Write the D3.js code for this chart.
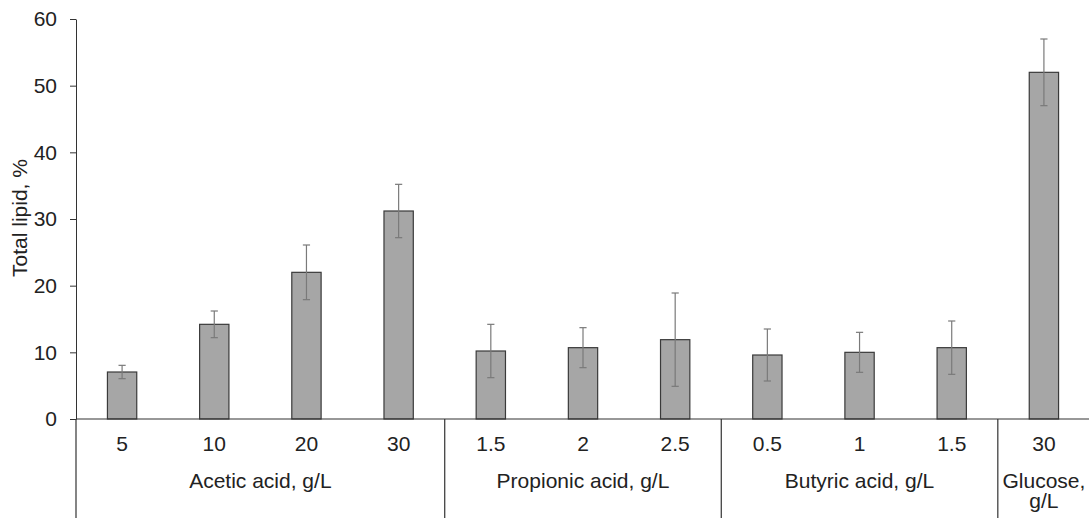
<!DOCTYPE html>
<html>
<head>
<meta charset="utf-8">
<script src="https://cdn.jsdelivr.net/npm/d3@7"></script>
<style>
  html, body { margin: 0; padding: 0; background: #fff; }
  svg { display: block; }
  text { font-family: "Liberation Sans", Arial, sans-serif; fill: #222; }
</style>
</head>
<body>
<svg id="chart" width="1089" height="518"></svg>
<script>
// Concentration of each carbon source (x tick labels)
const categories = ["5", "10", "20", "30", "1.5", "2", "2.5", "0.5", "1", "1.5", "30"];
// Mean total lipid content, %
const lipid = [7.05, 14.2, 22.0, 31.2, 10.2, 10.7, 11.9, 9.6, 10.0, 10.7, 52.0];
// Standard deviation, %
const lipidSd = [1.0, 2.0, 4.1, 4.0, 4.0, 3.0, 7.0, 3.9, 3.0, 4.0, 5.0];
// Carbon source groups: label lines and number of bars in each
const groupLabels = [["Acetic acid, g/L"], ["Propionic acid, g/L"], ["Butyric acid, g/L"], ["Glucose,", "g/L"]];
const groupSizes = [4, 3, 3, 1];
// Y axis ticks
const yTicks = [0, 10, 20, 30, 40, 50, 60];

const svg = d3.select("#chart");
const plotLeft = 76, plotRight = 1090, plotTop = 19, base = 419, bottomEdge = 518;
const axisColor = "#333";
const fontSize = 21;

const idx = d3.range(categories.length);

// One slot per bar, with the bar occupying the middle part of it
const slot = d3.scaleBand().domain(idx).range([plotLeft, plotRight]).padding(0);
const x = d3.scaleBand().domain(idx).range([plotLeft, plotRight])
  .paddingInner(0.682).paddingOuter(0.341);
const y = d3.scaleLinear().domain([0, 60]).range([base, plotTop]);

// Bars
svg.append("g").selectAll("rect").data(idx).join("rect")
  .attr("x", i => x(i))
  .attr("y", i => y(lipid[i]))
  .attr("width", x.bandwidth())
  .attr("height", i => y(0) - y(lipid[i]))
  .attr("fill", "#a6a6a6")
  .attr("stroke", "#3a3a3a")
  .attr("stroke-width", 1.2);

// Error bars
const eb = svg.append("g").attr("stroke", "#7a7a7a").attr("stroke-width", 1.2);
const cx = i => x(i) + x.bandwidth() / 2;
const capW = 3.6;
eb.selectAll("line.v").data(idx).join("line").attr("class", "v")
  .attr("x1", cx).attr("x2", cx)
  .attr("y1", i => y(lipid[i] + lipidSd[i]))
  .attr("y2", i => y(lipid[i] - lipidSd[i]));
eb.selectAll("line.t").data(idx).join("line").attr("class", "t")
  .attr("x1", i => cx(i) - capW).attr("x2", i => cx(i) + capW)
  .attr("y1", i => y(lipid[i] + lipidSd[i]))
  .attr("y2", i => y(lipid[i] + lipidSd[i]));
eb.selectAll("line.b").data(idx).join("line").attr("class", "b")
  .attr("x1", i => cx(i) - capW).attr("x2", i => cx(i) + capW)
  .attr("y1", i => y(lipid[i] - lipidSd[i]))
  .attr("y2", i => y(lipid[i] - lipidSd[i]));

// Y axis
const yAxis = svg.append("g")
  .attr("transform", `translate(${plotLeft},0)`)
  .call(d3.axisLeft(y).tickValues(yTicks).tickSize(6).tickSizeOuter(0).tickPadding(13));
yAxis.select(".domain").attr("stroke", axisColor);
yAxis.selectAll(".tick line").attr("stroke", axisColor);
yAxis.selectAll(".tick text")
  .attr("font-size", fontSize)
  .attr("font-family", "Liberation Sans, Arial, sans-serif")
  .attr("fill", "#222");

// Y axis title
svg.append("text")
  .attr("transform", `translate(26.5,218) rotate(-90)`)
  .attr("text-anchor", "middle")
  .attr("font-size", fontSize)
  .text("Total lipid, %");

// X baseline
svg.append("line")
  .attr("x1", plotLeft).attr("x2", plotRight)
  .attr("y1", base).attr("y2", base)
  .attr("stroke", axisColor).attr("stroke-width", 1.2);

// Group boundaries run from the baseline to the bottom edge
const starts = groupSizes.map((n, g) => d3.sum(groupSizes.slice(0, g)));
const boundaries = starts.map(s => slot(s));
svg.append("g").selectAll("line").data(boundaries).join("line")
  .attr("x1", d => d).attr("x2", d => d)
  .attr("y1", base).attr("y2", bottomEdge)
  .attr("stroke", axisColor).attr("stroke-width", 1.2);

// Category tick labels
svg.append("g").selectAll("text").data(idx).join("text")
  .attr("x", cx)
  .attr("y", 451)
  .attr("text-anchor", "middle")
  .attr("font-size", fontSize)
  .text(i => categories[i]);

// Group labels
groupLabels.forEach((lines, g) => {
  const x0 = slot(starts[g]);
  const x1 = slot(starts[g] + groupSizes[g] - 1) + slot.bandwidth();
  const t = svg.append("text")
    .attr("text-anchor", "middle")
    .attr("font-size", fontSize);
  lines.forEach((ln, k) => {
    t.append("tspan")
      .attr("x", (x0 + x1) / 2)
      .attr("y", 488 + k * 19.5)
      .text(ln);
  });
});
</script>
</body>
</html>
